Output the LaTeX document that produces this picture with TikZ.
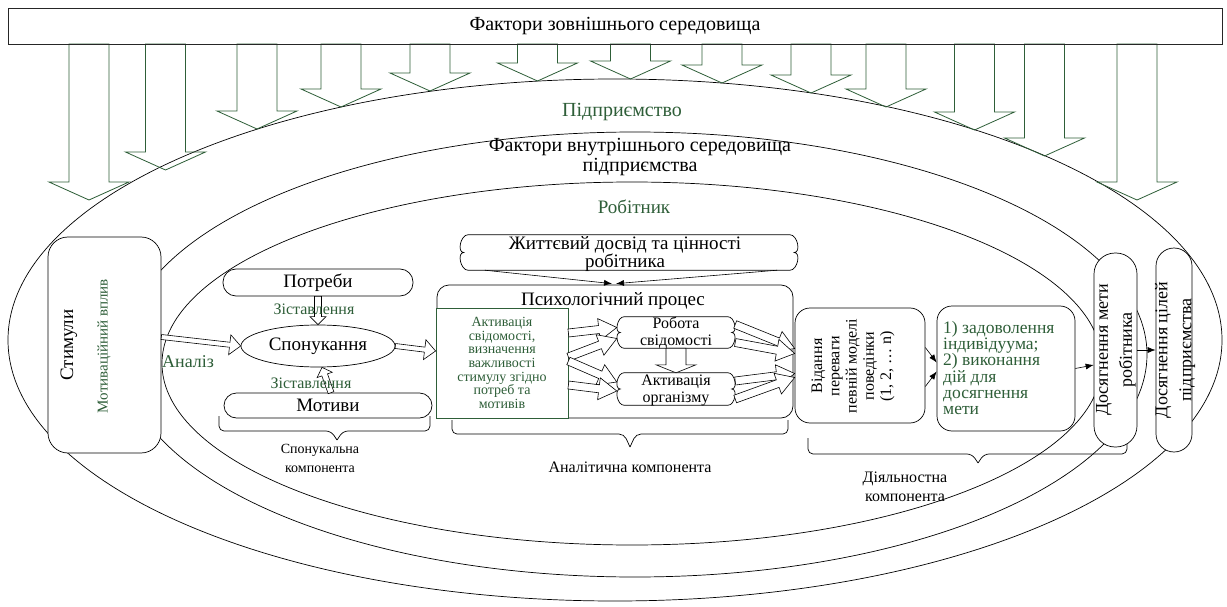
\documentclass[tikz,border=0pt]{standalone}
\usepackage{fontspec}
\setmainfont{Liberation Serif}
\usetikzlibrary{calc,arrows.meta,shapes.geometric}
\definecolor{dg}{RGB}{46,94,56}
\newcommand\fs[2]{\fontsize{#1}{#2}\selectfont}
% block arrow: [style]{start}{end}{shaft half width}{head half width}{head length}
\newcommand\barrow[6][]{%
  \coordinate (ba-s) at (#2);
  \coordinate (ba-e) at (#3);
  \coordinate (ba-h) at ($(ba-e)!#6!(ba-s)$);
  \draw[#1] ($(ba-s)!#4!90:(ba-e)$) -- ($(ba-h)!#4!-90:(ba-s)$) -- ($(ba-h)!#5!-90:(ba-s)$) -- (ba-e)
    -- ($(ba-h)!#5!90:(ba-s)$) -- ($(ba-h)!#4!90:(ba-s)$) -- ($(ba-s)!#4!-90:(ba-e)$) -- cycle;
}
% scalloped (cloud-like) outline around a node: {name}{corner offset}
\newcommand\scallop[2]{%
  \draw[ln, fill=white] ($(#1.north west)+(#2,0)$) -- ($(#1.north east)+(-#2,0)$)
    to[out=0,in=0] ($(#1.east)+(-0.5*#2,0)$) to[out=0,in=0] ($(#1.south east)+(-#2,0)$)
    -- ($(#1.south west)+(#2,0)$)
    to[out=180,in=180] ($(#1.west)+(0.5*#2,0)$) to[out=180,in=180] ($(#1.north west)+(#2,0)$);
}
% Word-like brace: {x1}{x2}{ytop}{ybar}{ytip}{xtip}
\newcommand\wbrace[6]{%
  \draw[ln, rounded corners=5pt] (#1,#3) -- (#1,#4) -- (#6-6,#4) -- (#6,#5);
  \draw[ln, rounded corners=5pt] (#6,#5) -- (#6+6,#4) -- (#2,#4) -- (#2,#3);
}
\tikzset{
  ln/.style={line width=0.7pt},
  bx/.style={draw, fill=white, line width=0.7pt, inner sep=0pt, align=center},
  garrow/.style={draw=dg, line width=0.8pt},
  oarrow/.style={draw=black, fill=white, line width=0.6pt, line join=miter},
  tx/.style={inner sep=0pt, align=center},
  larrow/.style={-{Latex[length=8pt,width=6pt]}, line width=0.6pt},
}
\begin{document}
\begin{tikzpicture}[x=1pt,y=-1pt]
\useasboundingbox (0,0) rectangle (1227,607);
\fill[white] (0,0) rectangle (1227,607);

% ellipses
\draw[ln] (615,340) ellipse [x radius=607pt, y radius=261pt];
\draw[ln] (635,354.5) ellipse [x radius=512pt, y radius=222.5pt];
\draw[ln] (632,363.5) ellipse [x radius=470pt, y radius=181.5pt];

% arrows from the outer factors
\foreach \x/\t in {89/200, 165.5/170, 257/129, 341/107, 430/91, 537.5/81, 630.5/79,
                   722/83, 811/93, 886/107, 974.5/130, 1044.5/156, 1137/200}
  {\barrow[garrow]{\x,44}{\x,\t}{20pt}{40pt}{18pt}}

\node[draw=black!85, line width=0.7pt, minimum width=1214pt, minimum height=36pt, inner sep=0pt,
      font={\fs{20}{22}}] (ext) at (615,26) {Фактори зовнішнього середовища};

% ellipse labels
\node[tx, text=dg, font={\fs{20}{22}}] (pidpr) at (622,112) {Підприємство};
\node[tx, font={\fs{20}{20}}] (internal) at (640,157) {Фактори внутрішнього середовища\\підприємства};
\node[tx, text=dg, font={\fs{19}{20}}] (worker) at (634,207) {Робітник};

% braces
\wbrace{219}{430}{416}{431}{440}{337}
\wbrace{452}{788}{420}{434}{447}{630}
\wbrace{808}{1127}{438}{454}{463}{978}
\node[tx, font={\fs{14}{19}}] (bsp) at (320,458) {Спонукальна\\компонента};
\node[tx, font={\fs{16}{19}}] (ban) at (630,467) {Аналітична компонента};
\node[tx, font={\fs{16}{19}}] (bdi) at (905,487) {Діяльностна\\компонента};

% stimuli
\node[bx, rounded corners=20pt, minimum width=113pt, minimum height=216pt] (stim) at (104.5,345) {};
\node[tx, rotate=90, font={\fs{19}{20}}] (stimt) at (69,345) {Стимули};
\node[tx, rotate=90, text=dg, font={\fs{15}{16}}] (stimv) at (104,346) {Мотиваційний вплив};
\node[tx, text=dg, font={\fs{18}{18}}, anchor=west] (anal) at (162,362) {Аналіз};

% incentive component
\node[bx, rounded corners=13pt, minimum width=190pt, minimum height=27pt, font={\fs{19}{20}}] (potr) at (318,282.5) {Потреби};
\node[bx, ellipse, minimum width=154pt, minimum height=42pt, font={\fs{19}{20}}] (spon) at (318,346) {Спонукання};
\node[bx, rounded corners=12.5pt, minimum width=208pt, minimum height=25pt, font={\fs{19}{20}}] (motiv) at (328,405.5) {Мотиви};
\barrow[oarrow]{potr.south}{spon.north}{3.5pt}{8pt}{8pt}
\barrow[oarrow]{$(motiv.north)+(3,0)$}{$(spon.south)+(4,0)$}{3pt}{8pt}{8pt}
\node[tx, text=dg, font={\fs{16}{16}}] (zis1) at (314,309) {Зіставлення};
\node[tx, text=dg, font={\fs{16}{16}}] (zis2) at (311,383) {Зіставлення};

% life experience
\node[minimum width=338pt, minimum height=35pt, inner sep=0pt] (life) at (629,252.5) {};
\scallop{life}{8}
\node[tx, font={\fs{19}{18.5}}] (lifet) at (625,254) {Життєвий досвід та цінності\\робітника};

% psychological process
\node[bx, rounded corners=12pt, minimum width=356pt, minimum height=133pt] (psych) at (615,351.5) {};
\node[tx, font={\fs{19}{20}}] (psycht) at (613,301) {Психологічний процес};
\draw[larrow] ($(life.south west)+(25,0)$) -- ($(psych.north)+(-3,-1)$);
\draw[larrow] ($(life.south east)+(-21,0)$) -- ($(psych.north)+(1,-1)$);
\node[draw=dg, fill=white, line width=0.8pt, minimum width=132pt, minimum height=110pt, inner sep=0pt,
      text=dg, align=center, font={\fs{14}{13.7}}] (act) at (502,363)
      {Активація\\свідомості,\\визначення\\важливості\\стимулу згідно\\потреб та\\мотивів};
\barrow[oarrow]{$(stim.east)+(0,-8)$}{spon.west}{2.5pt}{10pt}{11pt}
\barrow[oarrow]{spon.east}{$(act.west)+(0,-12)$}{2.5pt}{10pt}{11pt}

\node[minimum width=118pt, minimum height=31pt, inner sep=0pt] (rob) at (676,332.5) {};
\scallop{rob}{7}
\node[tx, font={\fs{16}{17}}] (robt) at (676,333) {Робота\\свідомості};
\node[minimum width=118pt, minimum height=32pt, inner sep=0pt] (akt) at (676,389) {};
\scallop{akt}{7}
\node[tx, font={\fs{16}{17}}] (aktt) at (676,390) {Активація\\організму};
\barrow[oarrow]{rob.south}{akt.north}{10pt}{20pt}{8pt}

\barrow[oarrow]{$(act.east)+(0,-30)$}{$(rob.west)+(0,-5)$}{4pt}{11pt}{18pt}
\barrow[oarrow]{$(act.east)+(0,-6)$}{$(rob.west)+(0,6)$}{4pt}{11pt}{18pt}
\barrow[oarrow]{$(act.east)+(0,-2)$}{$(akt.west)+(0,-7)$}{4pt}{11pt}{18pt}
\barrow[oarrow]{$(act.east)+(0,22)$}{$(akt.west)+(0,2)$}{4pt}{11pt}{18pt}

% activity component
\node[bx, rounded corners=15pt, minimum width=130pt, minimum height=115pt] (vid) at (860,365.5) {};
\node[tx, rotate=90, font={\fs{16}{17.2}}] (vidt) at (853,366) {Відання\\переваги\\певній моделі\\поведінки\\(1, 2, … n)};
\barrow[oarrow]{$(rob.east)+(0,-8)$}{$(vid.west)+(0,-17)$}{4pt}{11pt}{18pt}
\barrow[oarrow]{$(rob.east)+(0,10)$}{$(vid.west)+(0,-12)$}{4pt}{11pt}{18pt}
\barrow[oarrow]{$(akt.east)+(0,-8)$}{$(vid.west)+(0,8)$}{4pt}{11pt}{18pt}
\barrow[oarrow]{$(akt.east)+(0,10)$}{$(vid.west)+(0,12)$}{4pt}{11pt}{18pt}

\node[bx, rounded corners=15pt, minimum width=138pt, minimum height=125pt] (goal) at (1006,368.5) {};
\node[tx, align=left, anchor=west, text=dg, font={\fs{17.5}{16.2}}] (goalt) at (943,368) {1) задоволення\\індивідуума;\\2) виконання\\дій для\\досягнення\\мети};
\draw[larrow] ($(vid.east)+(0,-18)$) -- ($(goal.west)+(0,-6)$);
\draw[larrow] ($(vid.east)+(0,21)$) -- ($(goal.west)+(0,3)$);

\node[bx, rounded corners=21pt, minimum width=43pt, minimum height=194pt] (dmeta) at (1115.5,350) {};
\node[tx, rotate=90, font={\fs{18}{24}}] (dmetat) at (1116,350) {Досягнення мети\\робітника};
\node[bx, rounded corners=18pt, minimum width=36pt, minimum height=204pt] (dcil) at (1174,350) {};
\node[tx, rotate=90, font={\fs{18}{24}}] (dcilt) at (1175,350) {Досягнення цілей\\підприємства};
\draw[larrow] (goal.east) -- ($(dmeta.west)+(0,15)$);
\draw[larrow] (dmeta.east) -- (dcil.west);
\end{tikzpicture}
\end{document}
